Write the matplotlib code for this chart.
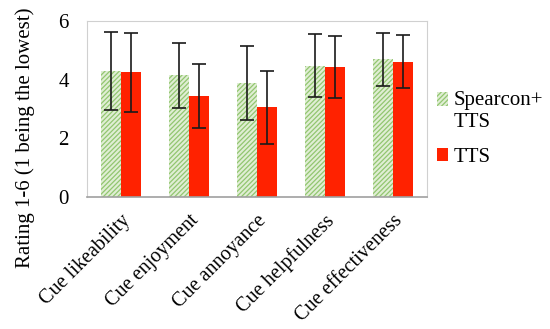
import matplotlib.pyplot as plt
import matplotlib.transforms as mtransforms
import numpy as np

CATEGORIES = ["Cue likeability", "Cue enjoyment", "Cue annoyance", "Cue helpfulness", "Cue effectiveness"]
SPEARCON_TTS = [4.29, 4.15, 3.89, 4.48, 4.70]
SPEARCON_TTS_ERR = [1.33, 1.10, 1.25, 1.07, 0.90]
TTS = [4.25, 3.45, 3.06, 4.43, 4.61]
TTS_ERR = [1.34, 1.09, 1.25, 1.06, 0.90]
SERIES = ["Spearcon+\nTTS", "TTS"]


def main() -> None:
    plt.rcParams["font.family"] = ["Liberation Serif", "DejaVu Serif"]
    plt.rcParams["hatch.linewidth"] = 0.9

    fig = plt.figure(figsize=(5.5, 3.29), dpi=100)
    ax = fig.add_axes([0.158, 0.401, 0.618, 0.535])

    x = np.arange(len(CATEGORIES))
    width = 0.29
    err_kw = {"elinewidth": 1.2, "capthick": 1.2, "ecolor": "#1a1a1a"}
    ax.bar(x - width / 2, SPEARCON_TTS, width, yerr=SPEARCON_TTS_ERR, capsize=5,
           facecolor="#e0eed4", edgecolor="#92c670", linewidth=0, hatch="///////",
           error_kw=err_kw, label=SERIES[0])
    ax.bar(x + width / 2, TTS, width, yerr=TTS_ERR, capsize=5,
           color="#ff2200", linewidth=0, error_kw=err_kw, label=SERIES[1])

    ax.set_xlim(-0.5, len(CATEGORIES) - 0.5)
    ax.set_ylim(0, 6)
    ax.set_yticks([0, 2, 4, 6])
    ax.set_xticks(x)
    ax.set_xticklabels(CATEGORIES, rotation=45, ha="right", rotation_mode="anchor")
    ax.tick_params(axis="x", length=0, labelsize=14.5, pad=10)
    ax.tick_params(axis="y", length=0, labelsize=15, pad=13)
    ax.set_ylabel("Rating 1-6 (1 being the lowest)", fontsize=15)
    ax.yaxis.set_label_coords(-0.153, 0.335)
    for side in ["top", "right", "left"]:
        ax.spines[side].set_color("#d0d0d0")
    ax.spines["bottom"].set_color("#a0a0a0")
    ax.spines["bottom"].set_linewidth(1.2)

    fs = 15
    leg = ax.legend(loc="upper left", bbox_to_anchor=(1.03, 0.6), frameon=False,
                    fontsize=fs, handlelength=0.55, handleheight=0.6, handletextpad=0.25,
                    labelspacing=0.75, borderaxespad=0.0, borderpad=0.0)
    # put the hatched swatch next to the first line of the two-line label
    first = leg.legend_handles[0]
    first.set_y(first.get_y() + 0.6 * fs)

    fig.savefig("out.png", dpi=100)
    plt.close(fig)


if __name__ == "__main__":
    main()
